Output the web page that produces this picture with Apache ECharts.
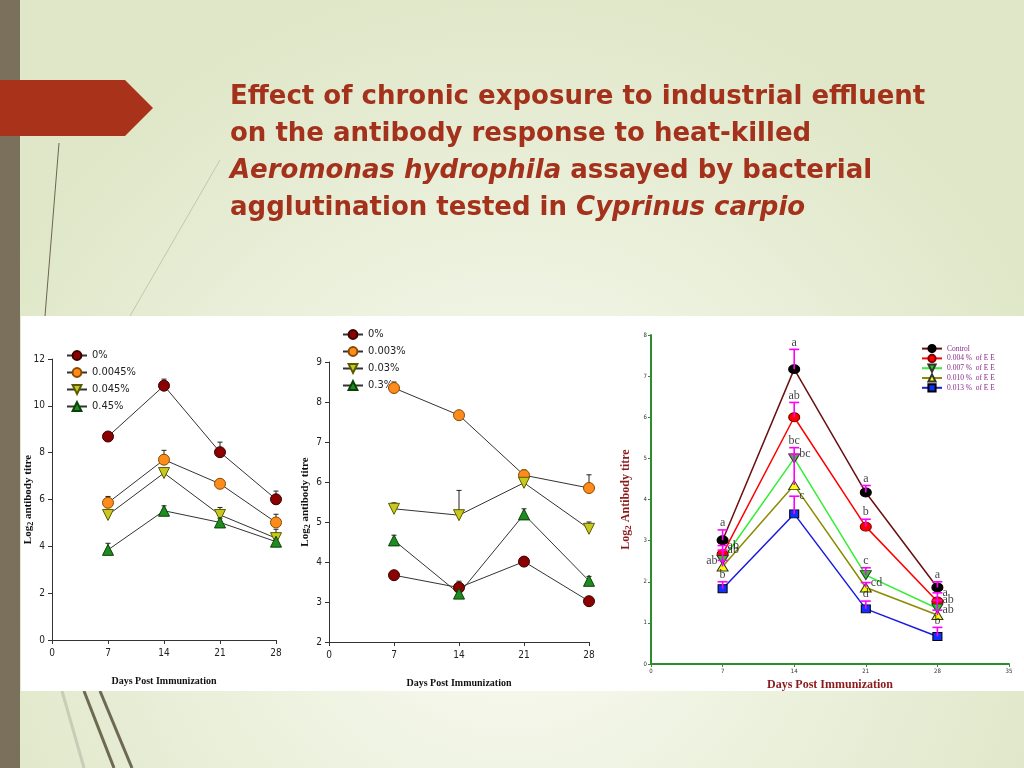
<!DOCTYPE html>
<html><head><meta charset="utf-8">
<script src="https://cdn.jsdelivr.net/npm/echarts/dist/echarts.min.js"></script>
<style>html,body{margin:0;padding:0;width:1024px;height:768px;overflow:hidden}#c{width:1024px;height:768px}</style>
</head><body><div id="c"></div>
<script>
// ---------- DATA ----------
const days = [7, 14, 21, 28];

// Chart 1
const c1Names = ['0%', '0.0045%', '0.045%', '0.45%'];
const c1_p0 = [8.69, 10.86, 8.02, 6.01];
const c1_p0045 = [5.86, 7.70, 6.67, 5.02];
const c1_p045 = [5.34, 7.13, 5.34, 4.35];
const c1_p45 = [3.85, 5.52, 5.02, 4.20];
const c1e_p0 = [0.15, 0.28, 0.43, 0.35];
const c1e_p0045 = [0.27, 0.40, 0.17, 0.35];
const c1e_p045 = [0.19, 0.17, 0.32, 0.38];
const c1e_p45 = [0.28, 0.21, 0.18, 0.15];

// Chart 2
const c2Names = ['0%', '0.003%', '0.03%', '0.3%'];
const c2_p0 = [3.67, 3.36, 4.01, 3.02];
const c2_p003 = [8.35, 7.67, 6.17, 5.85];
const c2_p03 = [5.33, 5.17, 5.98, 4.83];
const c2_p3 = [4.54, 3.21, 5.19, 3.53];
const c2e_p0 = [0.06, 0.16, 0.10, 0.04];
const c2e_p003 = [0.15, 0.06, 0.13, 0.33];
const c2e_p03 = [0.15, 0.62, 0.08, 0.17];
const c2e_p3 = [0.13, 0.05, 0.14, 0.11];

// Chart 3
const c3Names = ['Control', '0.004 %  of E E', '0.007 %  of E E', '0.010 %  of E E', '0.013 %  of E E'];
const c3_ctrl = [3.01, 7.17, 4.17, 1.86];
const c3_e004 = [2.67, 6.00, 3.34, 1.52];
const c3_e007 = [2.53, 5.00, 2.16, 1.35];
const c3_e010 = [2.37, 4.35, 1.86, 1.19];
const c3_e013 = [1.83, 3.65, 1.34, 0.67];
const c3e_ctrl = [0.25, 0.48, 0.17, 0.14];
const c3e_e004 = [0.21, 0.36, 0.18, 0.21];
const c3e_e007 = [0.24, 0.26, 0.18, 0.20];
const c3e_e010 = [0.15, 0.75, 0.12, 0.12];
const c3e_e013 = [0.17, 0.43, 0.19, 0.22];
const c3L_ctrl = ['a', 'a', 'a', 'a'];
const c3L_e004 = ['ab', 'ab', 'b', 'a'];
const c3L_e007 = ['ab', 'bc', 'c', 'ab'];
const c3L_e010 = ['ab', 'bc', 'cd', 'ab'];
const c3L_e013 = ['b', 'c', 'd', 'b'];

// Title lines
const titleLines = [
  '{n|Effect of chronic exposure to industrial effluent}',
  '{n|on the antibody response to heat-killed}',
  '{i|Aeromonas hydrophila}{n| assayed by bacterial}',
  '{n|agglutination tested in }{i|Cyprinus carpio}'
];

// ---------- STYLE ----------
const c3LPos_ctrl = ['top', 'top', 'top', 'top'];
const c3LPos_e004 = ['right', 'top', 'top', 'right'];
const c3LPos_e007 = ['right', 'top', 'top', 'right'];
const c3LPos_e010 = ['left', 'right', 'right', 'right'];
const c3LPos_e013 = ['top', 'right', 'top', 'top'];

const NARROW = '"DejaVu Sans Condensed", "Liberation Sans", Arial, sans-serif';
const SERIF = '"Liberation Serif", "Times New Roman", serif';
const TITLE_FONT = '"DejaVu Sans", sans-serif';
const TITLE_COLOR = '#a3311b';
const TITLE_Y = [97, 134, 171, 208];

const pair = (ys) => days.map((d, i) => [d, ys[i]]);
const triple = (ys, es) => days.map((d, i) => [d, ys[i], es[i]]);

function errSeries(gi, ys, es, color, capW, lw, z) {
  return {
    type: 'custom', xAxisIndex: gi, yAxisIndex: gi, z: z, silent: true,
    encode: { x: 0, y: 1 },
    data: triple(ys, es),
    renderItem(params, api) {
      const x = api.value(0), y = api.value(1), e = api.value(2);
      const p0 = api.coord([x, y]), p1 = api.coord([x, y + e]);
      return {
        type: 'group', children: [
          { type: 'line', shape: { x1: p0[0], y1: p0[1], x2: p1[0], y2: p1[1] }, style: { stroke: color, lineWidth: lw } },
          { type: 'line', shape: { x1: p1[0] - capW / 2, y1: p1[1], x2: p1[0] + capW / 2, y2: p1[1] }, style: { stroke: color, lineWidth: lw } }
        ]
      };
    }
  };
}

function lineSeries(gi, name, ys, symbol, size, color, border, lineColor, lw, rot) {
  return {
    type: 'line', name: name, xAxisIndex: gi, yAxisIndex: gi, z: 4,
    data: pair(ys), symbol: symbol, symbolSize: size, symbolRotate: rot || 0,
    showAllSymbol: true,
    itemStyle: { color: color, borderColor: border, borderWidth: 1, opacity: 1 },
    lineStyle: { color: lineColor, width: lw },
    emphasis: { disabled: true }, animation: false
  };
}

function letterSeries(ys, es, letters, positions) {
  return {
    type: 'scatter', xAxisIndex: 2, yAxisIndex: 2, z: 6, silent: true,
    symbolSize: 0,
    data: days.map((d, i) => ({
      value: [d, ys[i] + es[i]],
      label: { show: true, position: positions[i], formatter: letters[i],
        distance: positions[i] === 'top' ? 1 : 5,
        fontFamily: SERIF, fontSize: 12, color: '#111' }
    }))
  };
}

const axisTxt = { fontFamily: NARROW, fontSize: 10, color: '#222' };
function baseXAxis(gi, max, interval) {
  return {
    gridIndex: gi, type: 'value', min: 0, max: max, interval: interval,
    axisLine: { show: true, onZero: false, lineStyle: { color: '#333', width: 1 } },
    axisTick: { show: true, length: 4, lineStyle: { color: '#333' } },
    splitLine: { show: false },
    axisLabel: Object.assign({ margin: 8 }, axisTxt),
    name: 'Days Post Immunization', nameLocation: 'middle', nameGap: 36,
    nameTextStyle: { fontFamily: SERIF, fontWeight: 'bold', fontSize: 10, color: '#111' }
  };
}
function baseYAxis(gi, min, max, interval, gap) {
  return {
    gridIndex: gi, type: 'value', min: min, max: max, interval: interval,
    axisLine: { show: true, onZero: false, lineStyle: { color: '#333', width: 1 } },
    axisTick: { show: true, length: 4, lineStyle: { color: '#333' } },
    splitLine: { show: false },
    axisLabel: Object.assign({ margin: 7 }, axisTxt),
    name: '{a|Log}{s|2}{a| antibody titre}', nameLocation: 'middle', nameRotate: 90, nameGap: gap,
    nameMoveOverlap: false,
    nameTextStyle: {
      rich: {
        a: { fontFamily: SERIF, fontWeight: 'bold', fontSize: 11, color: '#111' },
        s: { fontFamily: SERIF, fontWeight: 'bold', fontSize: 8, color: '#111', padding: [6, 0, 0, 0] }
      }
    }
  };
}

const c1Colors = [['#8b0000', '#3a0000'], ['#ff8c1a', '#8a4a00'], ['#c8c81e', '#5a5a00'], ['#1e8c1e', '#0a400a']];
const titleRich = {
  i: { fontStyle: 'italic', fontWeight: 'bold', fontSize: 26, fontFamily: TITLE_FONT, fill: TITLE_COLOR },
  n: { fontWeight: 'bold', fontSize: 26, fontFamily: TITLE_FONT, fill: TITLE_COLOR }
};

const chart = echarts.init(document.getElementById('c'), null, { renderer: 'canvas' });

const decor = [
  { type: 'rect', z: -10, shape: { x: 0, y: 0, width: 1024, height: 768 },
    style: { fill: { type: 'radial', x: 0.5, y: 0.72, r: 0.75, colorStops: [{ offset: 0, color: '#fbfcf5' }, { offset: 1, color: '#dfe7c8' }] } } },
  { type: 'line', z: -9, shape: { x1: 59, y1: 143, x2: 45, y2: 316 }, style: { stroke: '#6a6650', lineWidth: 1 } },
  { type: 'line', z: -9, shape: { x1: 220, y1: 160, x2: 130, y2: 316 }, style: { stroke: '#c2c7b0', lineWidth: 1 } },
  { type: 'line', z: -9, shape: { x1: 62, y1: 691, x2: 84, y2: 768 }, style: { stroke: '#c9ccb6', lineWidth: 3 } },
  { type: 'line', z: -9, shape: { x1: 84, y1: 691, x2: 114, y2: 768 }, style: { stroke: '#6e6a52', lineWidth: 3 } },
  { type: 'line', z: -9, shape: { x1: 100, y1: 691, x2: 132, y2: 768 }, style: { stroke: '#6e6a52', lineWidth: 3 } },
  { type: 'rect', z: -8, shape: { x: 0, y: 0, width: 20, height: 768 }, style: { fill: '#7b705b' } },
  { type: 'polygon', z: -7, shape: { points: [[0, 80], [125, 80], [153, 108], [125, 136], [0, 136]] }, style: { fill: '#a8321a' } },
  { type: 'rect', z: -6, shape: { x: 21, y: 316, width: 1003, height: 375 }, style: { fill: '#ffffff' } }
];
const titleEls = titleLines.map((t, k) => ({
  type: 'text', z: 10, x: 230, y: TITLE_Y[k],
  style: { text: t, rich: titleRich, verticalAlign: 'middle', align: 'left' }
}));

const option = {
  animation: false,
  graphic: decor.concat(titleEls),
  grid: [
    { left: 52, top: 359, width: 224, height: 281 },
    { left: 329, top: 362, width: 260, height: 280 },
    { left: 651, top: 335, width: 358, height: 329 }
  ],
  xAxis: [
    baseXAxis(0, 28, 7),
    baseXAxis(1, 28, 7),
    {
      gridIndex: 2, type: 'value', min: 0, max: 35, interval: 7,
      axisLine: { show: true, onZero: false, lineStyle: { color: '#2e8b2e', width: 2 } },
      axisTick: { show: true, length: 3, lineStyle: { color: '#2e8b2e' } },
      splitLine: { show: false },
      axisLabel: { fontFamily: NARROW, fontSize: 6, color: '#333', margin: 4 },
      name: 'Days Post Immunization', nameLocation: 'middle', nameGap: 15,
      nameTextStyle: { fontFamily: SERIF, fontWeight: 'bold', fontSize: 12, color: '#8b1a1a' }
    }
  ],
  yAxis: [
    baseYAxis(0, 0, 12, 2, 17),
    baseYAxis(1, 2, 9, 1, 17),
    {
      gridIndex: 2, type: 'value', min: 0, max: 8, interval: 1,
      axisLine: { show: true, onZero: false, lineStyle: { color: '#2e8b2e', width: 2 } },
      axisTick: { show: true, length: 3, lineStyle: { color: '#2e8b2e' } },
      splitLine: { show: false },
      axisLabel: { fontFamily: NARROW, fontSize: 6, color: '#333', margin: 4 },
      name: '{a|Log}{s|2}{a| Antibody titre}', nameLocation: 'middle', nameRotate: 90, nameGap: 18,
      nameMoveOverlap: false,
      nameTextStyle: {
        rich: {
          a: { fontFamily: SERIF, fontWeight: 'bold', fontSize: 12, color: '#8b1a1a' },
          s: { fontFamily: SERIF, fontWeight: 'bold', fontSize: 9, color: '#8b1a1a', padding: [6, 0, 0, 0] }
        }
      }
    }
  ],
  legend: [
    { data: c1Names, orient: 'vertical', left: 66, top: 350, itemWidth: 20, itemHeight: 11, itemGap: 6, padding: 0,
      textStyle: { fontFamily: NARROW, fontSize: 11, color: '#222' }, selectedMode: false },
    { data: c2Names, orient: 'vertical', left: 342, top: 329, itemWidth: 20, itemHeight: 11, itemGap: 6, padding: 0,
      textStyle: { fontFamily: NARROW, fontSize: 11, color: '#222' }, selectedMode: false },
    { data: c3Names, orient: 'vertical', left: 921, top: 344, itemWidth: 20, itemHeight: 9, itemGap: 0.6, padding: 0,
      textStyle: { fontFamily: SERIF, fontSize: 7.5, color: '#8a2a8a' }, selectedMode: false }
  ],
  series: [
    errSeries(0, c1_p0, c1e_p0, '#222', 5, 1, 3),
    errSeries(0, c1_p0045, c1e_p0045, '#222', 5, 1, 3),
    errSeries(0, c1_p045, c1e_p045, '#222', 5, 1, 3),
    errSeries(0, c1_p45, c1e_p45, '#222', 5, 1, 3),
    lineSeries(0, c1Names[0], c1_p0, 'circle', 11, c1Colors[0][0], c1Colors[0][1], '#333', 1),
    lineSeries(0, c1Names[1], c1_p0045, 'circle', 11, c1Colors[1][0], c1Colors[1][1], '#333', 1),
    lineSeries(0, c1Names[2], c1_p045, 'triangle', 11, c1Colors[2][0], c1Colors[2][1], '#333', 1, 180),
    lineSeries(0, c1Names[3], c1_p45, 'triangle', 11, c1Colors[3][0], c1Colors[3][1], '#333', 1),
    errSeries(1, c2_p0, c2e_p0, '#222', 5, 1, 3),
    errSeries(1, c2_p003, c2e_p003, '#222', 5, 1, 3),
    errSeries(1, c2_p03, c2e_p03, '#222', 5, 1, 3),
    errSeries(1, c2_p3, c2e_p3, '#222', 5, 1, 3),
    lineSeries(1, c2Names[0], c2_p0, 'circle', 11, c1Colors[0][0], c1Colors[0][1], '#333', 1),
    lineSeries(1, c2Names[1], c2_p003, 'circle', 11, c1Colors[1][0], c1Colors[1][1], '#333', 1),
    lineSeries(1, c2Names[2], c2_p03, 'triangle', 11, c1Colors[2][0], c1Colors[2][1], '#333', 1, 180),
    lineSeries(1, c2Names[3], c2_p3, 'triangle', 11, c1Colors[3][0], c1Colors[3][1], '#333', 1),
    lineSeries(2, c3Names[0], c3_ctrl, 'circle', [11, 9], '#000000', '#000000', '#6b1010', 1.5),
    lineSeries(2, c3Names[1], c3_e004, 'circle', [11, 9], '#ff0000', '#800000', '#ff0000', 1.5),
    lineSeries(2, c3Names[2], c3_e007, 'triangle', [11, 9], '#22cc22', '#333333', '#33ee33', 1.5, 180),
    lineSeries(2, c3Names[3], c3_e010, 'triangle', [11, 9], '#ffff00', '#333333', '#8b8b00', 1.5),
    lineSeries(2, c3Names[4], c3_e013, 'rect', [9, 8], '#1030ff', '#000000', '#1a1ae0', 1.5),
    errSeries(2, c3_ctrl, c3e_ctrl, '#ff00ff', 10, 1.6, 5),
    errSeries(2, c3_e004, c3e_e004, '#ff00ff', 10, 1.6, 5),
    errSeries(2, c3_e007, c3e_e007, '#ff00ff', 10, 1.6, 5),
    errSeries(2, c3_e010, c3e_e010, '#ff00ff', 10, 1.6, 5),
    errSeries(2, c3_e013, c3e_e013, '#ff00ff', 10, 1.6, 5),
    letterSeries(c3_ctrl, c3e_ctrl, c3L_ctrl, c3LPos_ctrl),
    letterSeries(c3_e004, c3e_e004, c3L_e004, c3LPos_e004),
    letterSeries(c3_e007, c3e_e007, c3L_e007, c3LPos_e007),
    letterSeries(c3_e010, c3e_e010, c3L_e010, c3LPos_e010),
    letterSeries(c3_e013, c3e_e013, c3L_e013, c3LPos_e013)
  ]
};
chart.setOption(option);
</script>
</body></html>
